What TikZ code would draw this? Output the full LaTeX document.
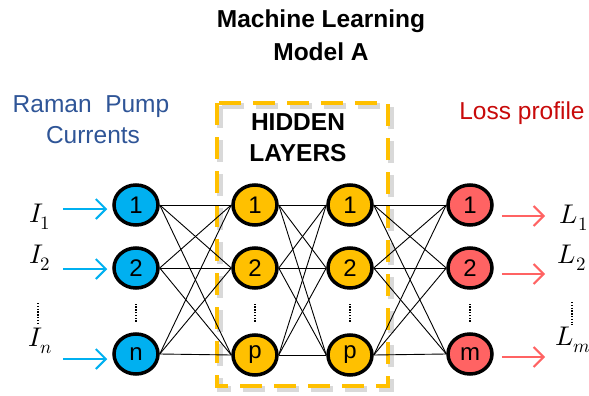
\documentclass[tikz,border=0pt]{standalone}
\usepackage{fontspec}
\usepackage{unicode-math}
\setmainfont{Liberation Sans}
\setmathfont{Latin Modern Math}
\usetikzlibrary{shapes.geometric,arrows.meta}

\begin{document}
\begin{tikzpicture}[x=1pt,y=-1pt]
    % Define colors
    \definecolor{incyan}{RGB}{0,176,240}
    \definecolor{hidgold}{RGB}{255,192,0}
    \definecolor{outred}{RGB}{255,99,99}
    \definecolor{ramanblue}{RGB}{47,85,151}
    \definecolor{lossred}{RGB}{200,10,10}

    % Define styles
    \tikzstyle{neuron} = [ellipse, draw=black, line width=3.5pt, minimum width=44pt, minimum height=40pt, inner sep=0pt, font=\fontsize{24}{24}\selectfont]
    \tikzstyle{heading} = [anchor=base, font=\fontsize{24.5}{24}\selectfont\bfseries]
    \tikzstyle{sidetext} = [anchor=base, font=\fontsize{24.5}{24}\selectfont]
    \tikzstyle{mathlbl} = [font=\fontsize{27}{27}\selectfont]
    \tikzstyle{wire} = [black, line width=0.9pt]
    \tikzstyle{vdots} = [black, line width=2.5pt, dash pattern=on 1.4pt off 1.4pt]
    \tikzstyle{inarrow} = [incyan, line width=2pt, -{Straight Barb[length=10pt, width=20pt]}]
    \tikzstyle{outarrow} = [outred, line width=2pt, -{Straight Barb[length=10pt, width=20pt]}]

    \useasboundingbox (0,0) rectangle (589,396);

    % Title
    \node[heading] (title1) at (321,28) {Machine Learning};
    \node[heading] (title2) at (321,60) {Model A};

    % Side texts
    \node[sidetext, ramanblue] (raman1) at (91,112) {Raman~ Pump};
    \node[sidetext, ramanblue] (raman2) at (93,143) {Currents};
    \node[sidetext, lossred] (loss) at (522,119) {Loss profile};

    % Hidden layer box (with soft shadow)
    \draw[gray, opacity=0.3, line width=6pt, dash pattern=on 22pt off 12pt] (220,106) rectangle (391,389);
    \draw[hidgold, line width=4pt, dash pattern=on 22pt off 12pt] (217,103) rectangle (388,386);
    \node[heading] (hid1) at (298,130) {HIDDEN};
    \node[heading] (hid2) at (298,161) {LAYERS};

    % Input layer
    \node[neuron, fill=incyan] (in1) at (136,205) {1};
    \node[neuron, fill=incyan] (in2) at (136,268) {2};
    \node[neuron, fill=incyan] (inn) at (136,354) {n};

    % Hidden layers
    \node[neuron, fill=hidgold] (ha1) at (255,205) {1};
    \node[neuron, fill=hidgold] (ha2) at (255,268) {2};
    \node[neuron, fill=hidgold] (hap) at (255,355) {p};
    \node[neuron, fill=hidgold] (hb1) at (350,205) {1};
    \node[neuron, fill=hidgold] (hb2) at (350,268) {2};
    \node[neuron, fill=hidgold] (hbp) at (350,355) {p};

    % Output layer
    \node[neuron, fill=outred] (out1) at (470,205) {1};
    \node[neuron, fill=outred] (out2) at (470,268) {2};
    \node[neuron, fill=outred] (outm) at (470,354) {m};

    % Connections
    \foreach \a in {in1,in2,inn}
        \foreach \b in {ha1,ha2,hap}
            \draw[wire] (\a.east) -- (\b.west);
    \foreach \a in {ha1,ha2,hap}
        \foreach \b in {hb1,hb2,hbp}
            \draw[wire] (\a.east) -- (\b.west);
    \foreach \a in {hb1,hb2,hbp}
        \foreach \b in {out1,out2,outm}
            \draw[wire] (\a.east) -- (\b.west);

    % Vertical dots
    \draw[vdots, shorten <=32pt, shorten >=30pt] (in2) -- (inn);
    \draw[vdots, shorten <=32pt, shorten >=30pt] (ha2) -- (hap);
    \draw[vdots, shorten <=32pt, shorten >=30pt] (hb2) -- (hbp);
    \draw[vdots, shorten <=32pt, shorten >=30pt] (out2) -- (outm);

    % Input labels and arrows
    \node[mathlbl] (I1) at (40,217) {$I_1$};
    \node[mathlbl] (I2) at (40,258) {$I_2$};
    \node[mathlbl] (In) at (40,341) {$I_n$};
    \coordinate (idtop) at (38,303);
    \coordinate (idbot) at (38,325);
    \draw[vdots] (idtop) -- (idbot);
    \coordinate (ia1) at (63,209);
    \coordinate (ia2) at (63,269);
    \coordinate (ian) at (63,359);
    \draw[inarrow, shorten >=5pt] (ia1) -- (ia1 -| in1.west);
    \draw[inarrow, shorten >=5pt] (ia2) -- (ia2 -| in2.west);
    \draw[inarrow, shorten >=5pt] (ian) -- (ian -| inn.west);

    % Output labels and arrows
    \node[mathlbl] (L1) at (574,218) {$L_1$};
    \node[mathlbl] (L2) at (572,258) {$L_2$};
    \node[mathlbl] (Lm) at (573,340) {$L_m$};
    \coordinate (ldtop) at (572,302);
    \coordinate (ldbot) at (572,325);
    \draw[vdots] (ldtop) -- (ldbot);
    \coordinate (oa1) at (545,216);
    \coordinate (oa2) at (545,274);
    \coordinate (oam) at (545,357);
    \draw[outarrow, shorten <=8pt] (oa1 -| out1.east) -- (oa1);
    \draw[outarrow, shorten <=8pt] (oa2 -| out2.east) -- (oa2);
    \draw[outarrow, shorten <=8pt] (oam -| outm.east) -- (oam);
\end{tikzpicture}
\end{document}
